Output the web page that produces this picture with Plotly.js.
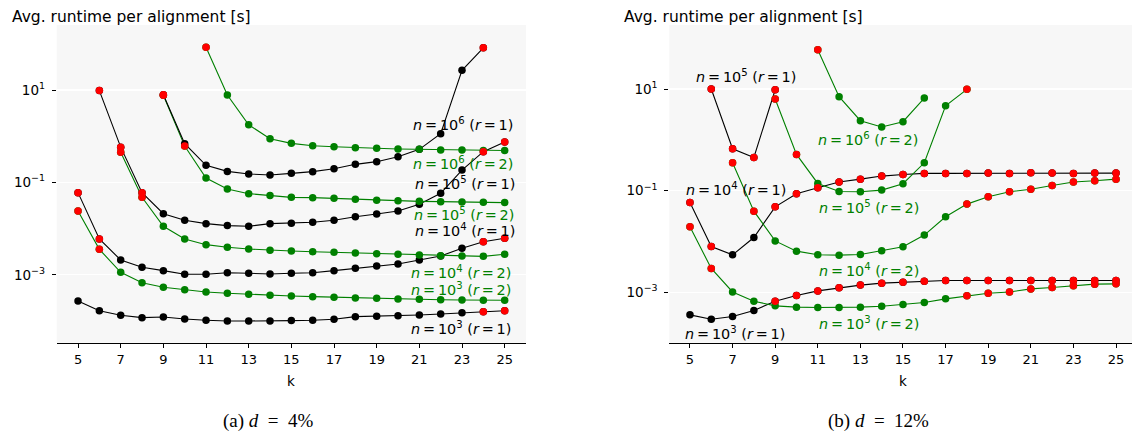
<!DOCTYPE html>
<html>
<head>
<meta charset="utf-8">
<script src="https://cdn.plot.ly/plotly-3.0.1.min.js"></script>
<style>
html,body{margin:0;padding:0;background:#fff;overflow:hidden;}
#chart{width:1132px;height:433px;}
</style>
</head>
<body>
<div id="chart"></div>
<script>
// ---------- Data: panel (a) d = 4% ----------
const K_TICKS = [5,7,9,11,13,15,17,19,21,23,25];
const Y_TICKS = [0.001, 0.1, 10];
const Y_TICKTEXT = ['10<sup>−3</sup>', '10<sup>−1</sup>', '10<sup>1</sup>'];

const a_n1e6_r2_k = [11,12,13,14,15,16,17,18,19,20,21,22,23,24,25];
const a_n1e6_r2_t = [84, 7.8, 1.77, 0.88, 0.70, 0.62, 0.59, 0.56, 0.55, 0.53, 0.52, 0.50, 0.50, 0.49, 0.49];
const a_n1e6_r2_red = [11];

const a_n1e6_r1_k = [9,10,11,12,13,14,15,16,17,18,19,20,21,22,23,24];
const a_n1e6_r1_t = [7.9, 0.69, 0.234, 0.173, 0.152, 0.145, 0.157, 0.171, 0.198, 0.246, 0.281, 0.36, 0.52, 1.13, 26.7, 82];
const a_n1e6_r1_red = [9,24];

const a_n1e5_r2_k = [9,10,11,12,13,14,15,16,17,18,19,20,21,22,23,24,25];
const a_n1e5_r2_t = [7.7, 0.61, 0.124, 0.072, 0.057, 0.052, 0.0475, 0.0468, 0.0452, 0.0431, 0.0409, 0.0403, 0.0389, 0.0383, 0.0377, 0.0371, 0.0365];
const a_n1e5_r2_red = [9,10];

const a_n1e5_r1_k = [6,7,8,9,10,11,12,13,14,15,16,17,18,19,20,21,22,23,24,25];
const a_n1e5_r1_t = [9.7, 0.58, 0.060, 0.0210, 0.0151, 0.0128, 0.0116, 0.0112, 0.0128, 0.0130, 0.0137, 0.0151, 0.0181, 0.0207, 0.0240, 0.0335, 0.058, 0.185, 0.462, 0.748];
const a_n1e5_r1_red = [6,7,8,24,25];

const a_n1e4_r2_k = [7,8,9,10,11,12,13,14,15,16,17,18,19,20,21,22,23,24,25];
const a_n1e4_r2_t = [0.448, 0.0475, 0.0112, 0.00596, 0.00449, 0.00394, 0.00361, 0.00339, 0.00327, 0.00316, 0.00307, 0.00296, 0.00286, 0.00278, 0.00269, 0.00259, 0.00255, 0.00251, 0.00278];
const a_n1e4_r2_red = [7,8];

const a_n1e4_r1_k = [5,6,7,8,9,10,11,12,13,14,15,16,17,18,19,20,21,22,23,24,25];
const a_n1e4_r1_t = [0.060, 0.00596, 0.00209, 0.00145, 0.00123, 0.00103, 0.00103, 0.00111, 0.00108, 0.00104, 0.00108, 0.00111, 0.00123, 0.00138, 0.00155, 0.00171, 0.00209, 0.00255, 0.00374, 0.00521, 0.00617];
const a_n1e4_r1_red = [5,6,24,25];

const a_n1e3_r2_k = [5,6,7,8,9,10,11,12,13,14,15,16,17,18,19,20,21,22,23,24,25];
const a_n1e3_r2_t = [0.0240, 0.00356, 0.00113, 0.000675, 0.000536, 0.000476, 0.000425, 0.000398, 0.000378, 0.000360, 0.000348, 0.000336, 0.000326, 0.000315, 0.000310, 0.000299, 0.000294, 0.000289, 0.000285, 0.000281, 0.000281];
const a_n1e3_r2_red = [5,6];

const a_n1e3_r1_k = [5,6,7,8,9,10,11,12,13,14,15,16,17,18,19,20,21,22,23,24,25];
const a_n1e3_r1_t = [0.000271, 0.000167, 0.000133, 0.000118, 0.000122, 0.000110, 0.000104, 0.000100, 0.000100, 0.000100, 0.000102, 0.000104, 0.000109, 0.000124, 0.000126, 0.000130, 0.000135, 0.000142, 0.000151, 0.000159, 0.000167];
const a_n1e3_r1_red = [24,25];

// ---------- Data: panel (b) d = 12% ----------
const b_n1e6_r2_k = [11,12,13,14,15,16];
const b_n1e6_r2_t = [59.4, 7.06, 2.38, 1.79, 2.28, 6.65];
const b_n1e6_r2_red = [11];

const b_n1e5_r2_k = [9,10,11,12,13,14,15,16,17,18];
const b_n1e5_r2_t = [6.35, 0.518, 0.139, 0.0968, 0.0953, 0.1028, 0.137, 0.354, 4.70, 9.86];
const b_n1e5_r2_red = [9,10,18];

const b_n1e5_r1_k = [6,7,8,9];
const b_n1e5_r1_t = [10.0, 0.668, 0.452, 9.7];
const b_n1e5_r1_red = [6,7,8,9];

const b_n1e4_r2_k = [7,8,9,10,11,12,13,14,15,16,17,18,19,20,21,22,23,24,25];
const b_n1e4_r2_t = [0.354, 0.0396, 0.0103, 0.00647, 0.00548, 0.00540, 0.00557, 0.00656, 0.00787, 0.0134, 0.0307, 0.0545, 0.0760, 0.0953, 0.107, 0.127, 0.148, 0.157, 0.169];
const b_n1e4_r2_red = [7,8,18,19,20,21,22,23,24,25];

const b_n1e4_r1_k = [5,6,7,8,9,10,11,12,13,14,15,16,17,18,19,20,21,22,23,24,25];
const b_n1e4_r1_t = [0.0587, 0.0080, 0.00548, 0.0120, 0.0482, 0.0869, 0.114, 0.148, 0.169, 0.194, 0.209, 0.219, 0.219, 0.219, 0.222, 0.219, 0.225, 0.222, 0.219, 0.222, 0.222];
const b_n1e4_r1_red = [5,6,9,10,11,12,13,14,15,16,17,18,19,20,21,22,23,24,25];

const b_n1e3_r2_k = [5,6,7,8,9,10,11,12,13,14,15,16,17,18,19,20,21,22,23,24,25];
const b_n1e3_r2_t = [0.0195, 0.00295, 0.00102, 0.000671, 0.000543, 0.000512, 0.000505, 0.000505, 0.000512, 0.000535, 0.000578, 0.000632, 0.000745, 0.000855, 0.000964, 0.00102, 0.00117, 0.00125, 0.00135, 0.00145, 0.00147];
const b_n1e3_r2_red = [5,6,18,19,20,21,22,23,24,25];

const b_n1e3_r1_k = [5,6,7,8,9,10,11,12,13,14,15,16,17,18,19,20,21,22,23,24,25];
const b_n1e3_r1_t = [0.000361, 0.000296, 0.000335, 0.000440, 0.000671, 0.000869, 0.00107, 0.00123, 0.00139, 0.00152, 0.00159, 0.00166, 0.00171, 0.00171, 0.00171, 0.00171, 0.00171, 0.00171, 0.00171, 0.00171, 0.00171];
const b_n1e3_r1_red = [9,10,11,12,13,14,15,16,17,18,19,20,21,22,23,24,25];

// ---------- Styling & traces ----------
const FONT = 'DejaVu Sans, Liberation Sans, sans-serif';
const BLACK = '#000000', GREEN = '#008000', RED = '#ff0000';

function line(k, t, color, xa, ya) {
  return {x:k, y:t, xaxis:xa, yaxis:ya, type:'scatter', mode:'lines+markers',
    line:{color:color, width:1.1}, marker:{size:7.5, color:color, line:{width:0}},
    hoverinfo:'skip', showlegend:false};
}
function reds(k, t, red, xa, ya) {
  const xs = [], ys = [];
  k.forEach((v, i) => { if (red.includes(v)) { xs.push(v); ys.push(t[i]); } });
  return {x:xs, y:ys, xaxis:xa, yaxis:ya, type:'scatter', mode:'markers',
    marker:{size:7.5, color:RED, line:{width:0}}, hoverinfo:'skip', showlegend:false};
}

const panelA = [
  [a_n1e3_r1_k, a_n1e3_r1_t, a_n1e3_r1_red, BLACK],
  [a_n1e3_r2_k, a_n1e3_r2_t, a_n1e3_r2_red, GREEN],
  [a_n1e4_r1_k, a_n1e4_r1_t, a_n1e4_r1_red, BLACK],
  [a_n1e4_r2_k, a_n1e4_r2_t, a_n1e4_r2_red, GREEN],
  [a_n1e5_r1_k, a_n1e5_r1_t, a_n1e5_r1_red, BLACK],
  [a_n1e5_r2_k, a_n1e5_r2_t, a_n1e5_r2_red, GREEN],
  [a_n1e6_r1_k, a_n1e6_r1_t, a_n1e6_r1_red, BLACK],
  [a_n1e6_r2_k, a_n1e6_r2_t, a_n1e6_r2_red, GREEN]
];
const panelB = [
  [b_n1e3_r1_k, b_n1e3_r1_t, b_n1e3_r1_red, BLACK],
  [b_n1e3_r2_k, b_n1e3_r2_t, b_n1e3_r2_red, GREEN],
  [b_n1e4_r1_k, b_n1e4_r1_t, b_n1e4_r1_red, BLACK],
  [b_n1e4_r2_k, b_n1e4_r2_t, b_n1e4_r2_red, GREEN],
  [b_n1e5_r1_k, b_n1e5_r1_t, b_n1e5_r1_red, BLACK],
  [b_n1e5_r2_k, b_n1e5_r2_t, b_n1e5_r2_red, GREEN],
  [b_n1e6_r2_k, b_n1e6_r2_t, b_n1e6_r2_red, GREEN]
];

const traces = [];
panelA.forEach(s => traces.push(line(s[0], s[1], s[3], 'x', 'y')));
panelB.forEach(s => traces.push(line(s[0], s[1], s[3], 'x2', 'y2')));
panelA.forEach(s => traces.push(reds(s[0], s[1], s[2], 'x', 'y')));
panelB.forEach(s => traces.push(reds(s[0], s[1], s[2], 'x2', 'y2')));

function xaxis(domain, range, anchor) {
  return {domain:domain, range:range, anchor:anchor, tickvals:K_TICKS, ticks:'outside', ticklen:4,
    tickwidth:1, tickcolor:BLACK, showline:true, linecolor:BLACK, linewidth:1.2, showgrid:false,
    zeroline:false, tickfont:{family:FONT, size:13, color:BLACK}, fixedrange:true};
}
function yaxis(domain, range, anchor) {
  return {domain:domain, range:range, anchor:anchor, type:'log', tickvals:Y_TICKS, ticktext:Y_TICKTEXT,
    ticks:'outside', ticklen:4, tickwidth:1, tickcolor:BLACK, showline:false, showgrid:true,
    ticklabelstandoff:4,
    gridcolor:'#ffffff', gridwidth:1.3, zeroline:false, tickfont:{family:FONT, size:13.5, color:BLACK}, fixedrange:true};
}

const ITAL = (s) => '<i>' + s + '</i>';
function lbl(n, r) { return ITAL('n') + '\u2009=\u200910<sup>' + n + '</sup> (' + ITAL('r') + '\u2009=\u2009' + r + ')'; }
function ann(xref, yref, x, y, text, color) {
  return {xref:xref, yref:yref, x:x, y:y, text:text, showarrow:false, xanchor:'center', yanchor:'middle',
    font:{family:FONT, size:14.4, color:color}};
}

const TITLE_FONT = {family:'DejaVu Sans', size:15.5, color:BLACK};
const CAP_FONT = {family:'Liberation Serif, serif', size:19, color:BLACK};
const annotations = [
  // panel (a) labels
  ann('x','y', 23.06, 0.264, lbl(6,1), BLACK),
  ann('x','y', 23.06, -0.574, lbl(6,2), GREEN),
  ann('x','y', 23.15, -1.019, lbl(5,1), BLACK),
  ann('x','y', 23.08, -1.690, lbl(5,2), GREEN),
  ann('x','y', 23.13, -2.030, lbl(4,1), BLACK),
  ann('x','y', 22.96, -2.933, lbl(4,2), GREEN),
  ann('x','y', 22.96, -3.314, lbl(3,2), GREEN),
  ann('x','y', 22.94, -4.145, lbl(3,1), BLACK),
  // panel (b) labels
  ann('x2','y2', 7.62, 1.256, lbl(5,1), BLACK),
  ann('x2','y2', 13.36, 0.010, lbl(6,2), GREEN),
  ann('x2','y2', 7.16, -0.974, lbl(4,1), BLACK),
  ann('x2','y2', 13.41, -1.329, lbl(5,2), GREEN),
  ann('x2','y2', 13.41, -2.563, lbl(4,2), GREEN),
  ann('x2','y2', 13.41, -3.612, lbl(3,2), GREEN),
  ann('x2','y2', 7.10, -3.797, lbl(3,1), BLACK),
  // axis titles
  {xref:'paper', yref:'paper', x:10/1132, y:1-17/433, xanchor:'left', yanchor:'middle', showarrow:false,
   text:'Avg. runtime per alignment [s]', font:TITLE_FONT},
  {xref:'paper', yref:'paper', x:622/1132, y:1-17/433, xanchor:'left', yanchor:'middle', showarrow:false,
   text:'Avg. runtime per alignment [s]', font:TITLE_FONT},
  {xref:'paper', yref:'paper', x:291/1132, y:1-381/433, xanchor:'center', yanchor:'middle', showarrow:false,
   text:'k', font:{family:FONT, size:13.5, color:BLACK}},
  {xref:'paper', yref:'paper', x:902.6/1132, y:1-381/433, xanchor:'center', yanchor:'middle', showarrow:false,
   text:'k', font:{family:FONT, size:13.5, color:BLACK}},
  // captions
  {xref:'paper', yref:'paper', x:268/1132, y:1-421/433, xanchor:'center', yanchor:'middle', showarrow:false,
   text:'(a) ' + ITAL('d') + '\u2002=\u20024%', font:CAP_FONT},
  {xref:'paper', yref:'paper', x:878/1132, y:1-421/433, xanchor:'center', yanchor:'middle', showarrow:false,
   text:'(b) ' + ITAL('d') + '\u2002=\u200212%', font:CAP_FONT}
];

const layout = {
  width:1132, height:433,
  margin:{l:0, r:0, t:0, b:0, pad:0},
  paper_bgcolor:'#ffffff', plot_bgcolor:'#f7f7f7',
  font:{family:FONT, color:BLACK},
  showlegend:false,
  xaxis: xaxis([56.7/1132, 526/1132], [4, 26], 'y'),
  yaxis: yaxis([1-342.7/433, 1-25/433], [-4.47, 2.407], 'x'),
  xaxis2: xaxis([669.3/1132, 1], [4.03, 25.75], 'y2'),
  yaxis2: yaxis([1-342.7/433, 1-25/433], [-3.99, 2.26], 'x2'),
  annotations: annotations
};

Plotly.newPlot('chart', traces, layout, {displayModeBar:false, staticPlot:true});
</script>
</body>
</html>
